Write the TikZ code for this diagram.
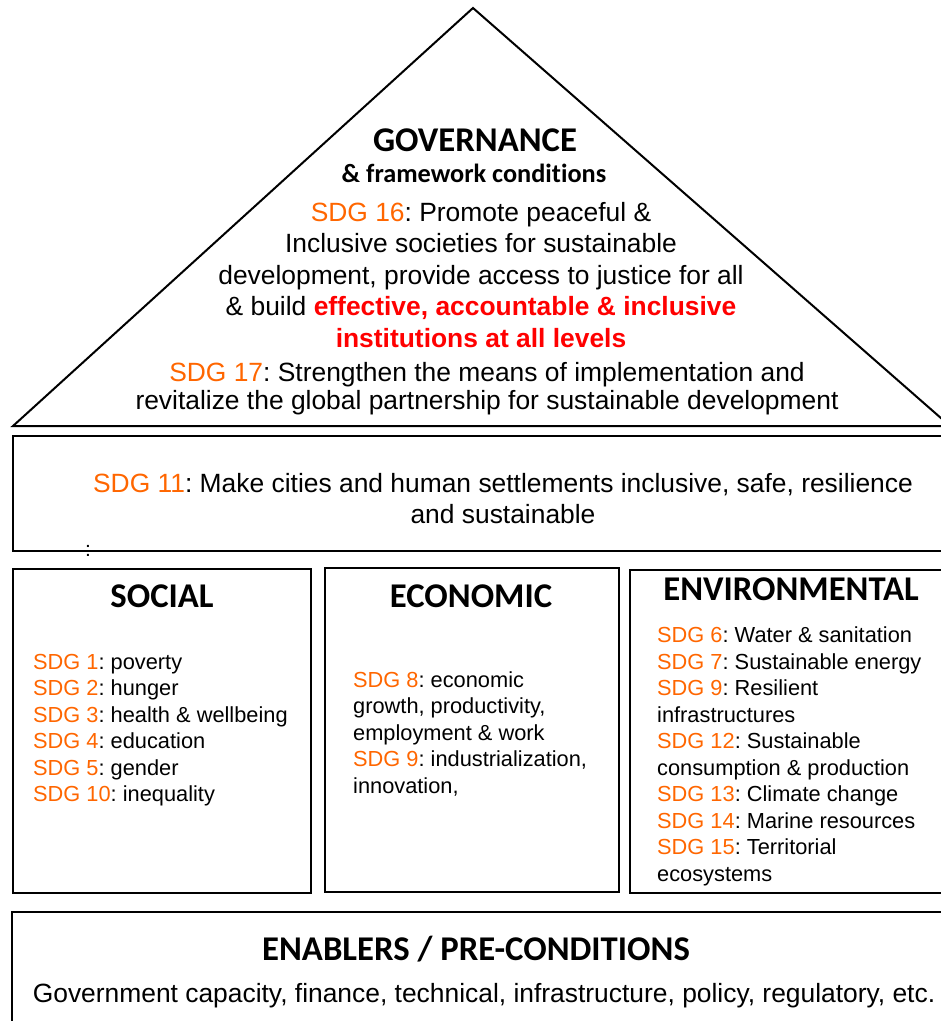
\documentclass[tikz,border=0pt]{standalone}
\usepackage{fontspec}
\setmainfont{Liberation Sans}
\newfontfamily\calib[Ligatures=NoCommon]{Carlito}
\definecolor{sdgor}{HTML}{FF6600}
\definecolor{redt}{HTML}{FF0000}
\newcommand{\sdgl}[1]{{\color{sdgor}SDG #1}}
\frenchspacing
\begin{document}
\frenchspacing
\begin{tikzpicture}[x=1pt,y=-1pt,
  frame/.style={draw=black, line width=2pt},
  head/.style={font=\calib\bfseries\fontsize{34.7}{40}\selectfont, inner sep=0pt, anchor=base},
  subhead/.style={font=\calib\bfseries\fontsize{26.3}{30}\selectfont, inner sep=0pt, anchor=base},
  bigtxt/.style={font=\fontsize{26.4}{31.5}\selectfont, inner sep=0pt, align=center},
  smalltxt/.style={font=\fontsize{21.8}{26.5}\selectfont, inner sep=0pt, align=left, anchor=north west}]
\useasboundingbox (0,0) rectangle (941,1021);
\begin{scope}
\clip (0,0) rectangle (941,1021);
% roof
\draw[frame, line join=miter] (13,426) -- (473,8) -- (950,426) -- cycle;
% boxes
\draw[frame] (13,436) rectangle (960,551);
\draw[frame] (13,569) rectangle (311,893);
\draw[frame] (325,568) rectangle (619,892);
\draw[frame] (630,570) rectangle (960,893);
\draw[frame] (12,912) rectangle (960,1040);
\end{scope}
% roof text
\node[head] (gov) at (475,151) {GOVERNANCE};
\node[subhead] (fw) at (474,182) {\& framework conditions};
\node[bigtxt, anchor=north] (s16) at (481,201.7) {\sdgl{16}: Promote peaceful \&\\
Inclusive societies for sustainable\\
development, provide access to justice for all\\
\& build {\color{redt}\bfseries effective, accountable \& inclusive}\\
{\color{redt}\bfseries institutions at all levels}};
\node[bigtxt, anchor=north, font=\fontsize{26.4}{28}\selectfont] (s17) at (487,361.7) {\sdgl{17}: Strengthen the means of implementation and\\
revitalize the global partnership for sustainable development};
% SDG 11
\node[bigtxt, anchor=north, font=\fontsize{26.4}{31}\selectfont] (s11) at (503,473) {\sdgl{11}: Make cities and human settlements inclusive, safe, resilience\\
and sustainable};
\node[font=\fontsize{21}{24}\selectfont, inner sep=0pt, anchor=base] (colon) at (88,556) {:};
% pillars
\node[head] (soc) at (162,607) {SOCIAL};
\node[head] (eco) at (471,607) {ECONOMIC};
\node[head] (env) at (791,600) {ENVIRONMENTAL};
\node[smalltxt] (soct) at (33,654) {\sdgl{1}: poverty\\
\sdgl{2}: hunger\\
\sdgl{3}: health \& wellbeing\\
\sdgl{4}: education\\
\sdgl{5}: gender\\
\sdgl{10}: inequality};
\node[smalltxt] (ecot) at (353,671) {\sdgl{8}: economic\\
growth, productivity,\\
employment \& work\\
\sdgl{9}: industrialization,\\
innovation,};
\node[smalltxt] (envt) at (657,626.5) {\sdgl{6}: Water \& sanitation\\
\sdgl{7}: Sustainable energy\\
\sdgl{9}: Resilient\\
infrastructures\\
\sdgl{12}: Sustainable\\
consumption \& production\\
\sdgl{13}: Climate change\\
\sdgl{14}: Marine resources\\
\sdgl{15}: Territorial\\
ecosystems};
% enablers
\node[head] (ena) at (476,960) {ENABLERS / PRE-CONDITIONS};
\node[font=\fontsize{26.4}{30}\selectfont, inner sep=0pt, anchor=base] (enat) at (484,1002) {Government capacity, finance, technical, infrastructure, policy, regulatory, etc.};
\end{tikzpicture}
\end{document}
